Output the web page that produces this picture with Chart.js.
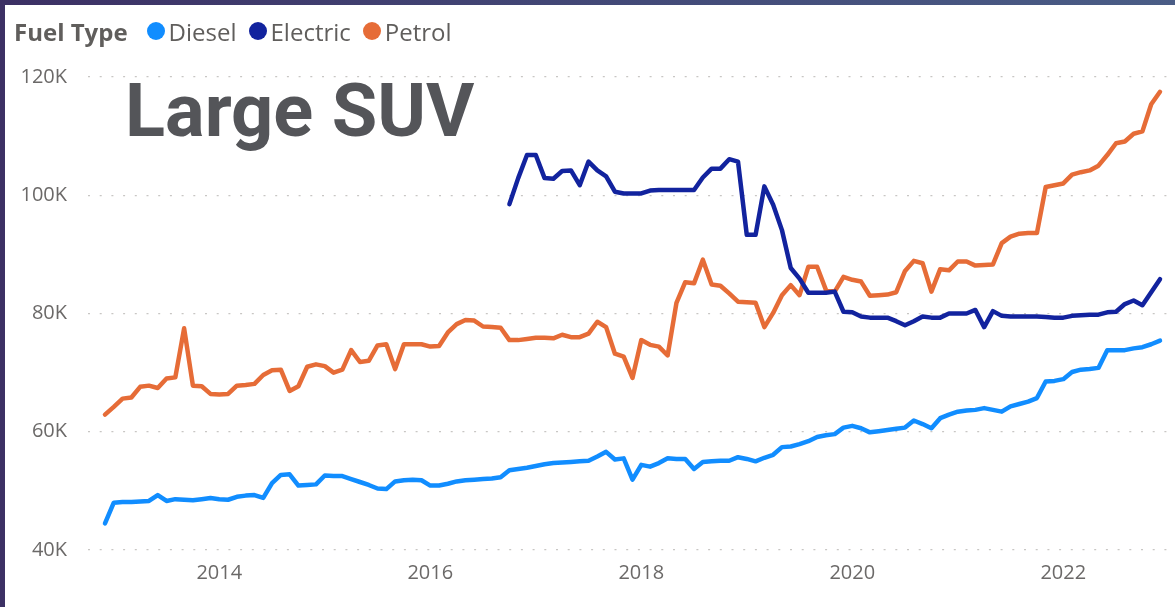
<!DOCTYPE html>
<html>
<head>
<meta charset="utf-8">
<script src="https://cdn.jsdelivr.net/npm/chart.js@4.4.1/dist/chart.umd.min.js"></script>
<style>
  html, body { margin: 0; padding: 0; }
  body {
    width: 1175px; height: 607px; overflow: hidden; position: relative;
    background: linear-gradient(90deg, #3c3064 0%, #434a78 55%, #4a5d86 100%);
  }
  #panel { position: absolute; left: 5px; top: 5px; right: 0; bottom: 0; background: #fff; }
  #chart { position: absolute; left: 0; top: 0; }
  #legend {
    position: absolute; left: 14px; top: 15px; height: 32px;
    display: flex; align-items: center;
    font-family: "Open Sans", sans-serif; font-size: 24px; color: #605E5C;
  }
  #legend .title { font-weight: 700; margin-right: 19px; }
  #legend .item { display: flex; align-items: center; margin-right: 12px; }
  #legend .dot { width: 18px; height: 18px; border-radius: 50%; margin-right: 4px; }
  #big {
    position: absolute; left: 125px; top: 74px; line-height: 1;
    font-family: Roboto, sans-serif; font-weight: 700; font-size: 74px; color: #545559;
  }
</style>
</head>
<body>
<div id="panel"></div>
<canvas id="chart" width="1175" height="607"></canvas>
<div id="legend"></div>
<div id="big">Large SUV</div>

<script>
// ===============================
// DATA (values in thousands)
// ===============================
const startYear = 2012;
const startMonth = 12;   // Dec 2012
const monthCount = 121;  // through Dec 2022

const months = [];
for (let i = 0; i < monthCount; i++) {
  const m = (startMonth - 1 + i) % 12;
  const y = startYear + Math.floor((startMonth - 1 + i) / 12);
  months.push(y + "-" + String(m + 1).padStart(2, "0"));
}

const diesel = [
  44.5, 48.0, 48.1, 48.1, 48.2, 48.3, 49.3, 48.3, 48.6, 48.5, 48.4, 48.6,
  48.8, 48.6, 48.5, 49.0, 49.2, 49.3, 48.8, 51.3, 52.7, 52.8, 50.9, 51.0,
  51.1, 52.6, 52.5, 52.5, 52.0, 51.5, 51.0, 50.4, 50.3, 51.6, 51.8, 51.9,
  51.8, 50.9, 50.9, 51.2, 51.6, 51.8, 51.9, 52.0, 52.1, 52.3, 53.5, 53.7,
  53.9, 54.2, 54.5, 54.7, 54.8, 54.9, 55.0, 55.1, 55.8, 56.6, 55.3, 55.5,
  51.9, 54.4, 54.1, 54.7, 55.5, 55.4, 55.4, 53.7, 54.9, 55.0, 55.1, 55.1,
  55.7, 55.4, 55.0, 55.6, 56.1, 57.4, 57.5, 57.9, 58.4, 59.1, 59.4, 59.6,
  60.7, 61.0, 60.6, 59.9, 60.1, 60.3, 60.5, 60.7, 61.9, 61.3, 60.6, 62.3,
  62.9, 63.4, 63.6, 63.7, 64.0, 63.7, 63.4, 64.3, 64.7, 65.1, 65.7, 68.5,
  68.6, 68.9, 70.1, 70.5, 70.6, 70.8, 73.8, 73.8, 73.8, 74.1, 74.3, 74.8,
  75.4
];

const electric = [
  null, null, null, null, null, null, null, null, null, null, null, null,
  null, null, null, null, null, null, null, null, null, null, null, null,
  null, null, null, null, null, null, null, null, null, null, null, null,
  null, null, null, null, null, null, null, null, null, null, 98.5, 102.9,
  106.8, 106.8, 102.9, 102.8, 104.1, 104.2, 101.7, 105.7, 104.2, 103.2, 100.6, 100.3,
  100.3, 100.3, 100.8, 100.9, 100.9, 100.9, 100.9, 100.9, 103.0, 104.5, 104.5, 106.1,
  105.7, 93.3, 93.3, 101.5, 98.4, 94.1, 87.7, 85.9, 83.5, 83.5, 83.5, 83.7,
  80.3, 80.2, 79.5, 79.3, 79.3, 79.3, 78.7, 78.0, 78.7, 79.5, 79.3, 79.3,
  80.0, 80.0, 80.0, 80.6, 77.7, 80.4, 79.6, 79.5, 79.5, 79.5, 79.5, 79.4,
  79.3, 79.3, 79.6, 79.7, 79.8, 79.8, 80.2, 80.3, 81.6, 82.2, 81.4, 83.6,
  85.8
];

const petrol = [
  62.9, 64.2, 65.6, 65.8, 67.6, 67.8, 67.4, 69.0, 69.2, 77.5, 67.8, 67.7,
  66.4, 66.3, 66.4, 67.8, 67.9, 68.1, 69.6, 70.4, 70.5, 66.9, 67.7, 71.0,
  71.4, 71.1, 70.0, 70.5, 73.8, 71.8, 72.0, 74.6, 74.8, 70.6, 74.8, 74.8,
  74.8, 74.4, 74.5, 76.8, 78.2, 78.9, 78.8, 77.8, 77.7, 77.6, 75.5, 75.5,
  75.7, 75.9, 75.9, 75.8, 76.4, 76.0, 76.0, 76.6, 78.6, 77.7, 73.2, 72.7,
  69.1, 75.5, 74.7, 74.4, 72.9, 81.8, 85.3, 85.1, 89.1, 84.9, 84.7, 83.4,
  82.0, 81.9, 81.8, 77.7, 80.1, 83.1, 84.8, 83.1, 87.9, 87.9, 84.0, 83.7,
  86.2, 85.7, 85.4, 83.0, 83.1, 83.2, 83.6, 87.2, 88.9, 88.5, 83.7, 87.5,
  87.3, 88.8, 88.8, 88.1, 88.2, 88.3, 91.9, 93.0, 93.5, 93.6, 93.6, 101.4,
  101.7, 102.0, 103.5, 103.9, 104.2, 105.0, 106.8, 108.8, 109.1, 110.4, 110.8, 115.4,
  117.5
];

const seriesNames = ["Diesel", "Electric", "Petrol"];
const seriesColors = ["#118DFF", "#12239E", "#E66C37"];
const yTicks = [40, 60, 80, 100, 120];
const xTickYears = [2014, 2016, 2018, 2020, 2022];

// ===============================
// HELPERS
// ===============================
function monthToYear(label) {
  const [y, m] = label.split("-").map(Number);
  return y + (m - 1) / 12;
}

function toPoints(values) {
  return values.map((v, i) => ({ x: monthToYear(months[i]), y: v }));
}

const axisFont = { family: "'Open Sans', sans-serif", size: 20 };
const axisColor = "#6b6968";

// ===============================
// CHART
// ===============================
const ctx = document.getElementById("chart").getContext("2d");

const chart = new Chart(ctx, {
  type: "line",
  data: {
    datasets: [diesel, electric, petrol].map((vals, k) => ({
      label: seriesNames[k],
      data: toPoints(vals),
      borderColor: seriesColors[k],
      backgroundColor: seriesColors[k],
      borderWidth: 4.5,
      pointRadius: 0,
      tension: 0,
      borderJoinStyle: "round",
      borderCapStyle: "round"
    }))
  },
  options: {
    responsive: false,
    animation: false,
    layout: { padding: { top: 77, left: 0, right: 0, bottom: 0 } },
    plugins: {
      legend: { display: false },
      tooltip: { enabled: false }
    },
    scales: {
      x: {
        type: "linear",
        min: 2012.7556,
        max: 2023.0589,
        afterFit: (s) => { s.height = 57; },
        afterBuildTicks: (s) => { s.ticks = xTickYears.map(v => ({ value: v })); },
        grid: { display: false, drawTicks: false },
        border: { display: false },
        ticks: {
          callback: (v) => String(v),
          color: axisColor,
          font: axisFont,
          padding: 11,
          maxRotation: 0
        }
      },
      y: {
        min: 40,
        max: 120,
        afterFit: (s) => { s.width = 88; },
        afterBuildTicks: (s) => { s.ticks = yTicks.map(v => ({ value: v })); },
        grid: { color: "#C8C6C4", lineWidth: 1.3, drawTicks: false },
        border: { display: false, dash: [2, 9.7] },
        ticks: {
          callback: (v) => v + "K",
          color: axisColor,
          font: axisFont,
          padding: 21
        }
      }
    }
  }
});

// ===============================
// LEGEND (HTML)
// ===============================
const legend = document.getElementById("legend");
const title = document.createElement("span");
title.className = "title";
title.textContent = "Fuel Type";
legend.appendChild(title);

chart.data.datasets.forEach(ds => {
  const item = document.createElement("span");
  item.className = "item";
  const dot = document.createElement("span");
  dot.className = "dot";
  dot.style.background = ds.borderColor;
  const txt = document.createElement("span");
  txt.textContent = ds.label;
  item.appendChild(dot);
  item.appendChild(txt);
  legend.appendChild(item);
});
</script>
</body>
</html>
